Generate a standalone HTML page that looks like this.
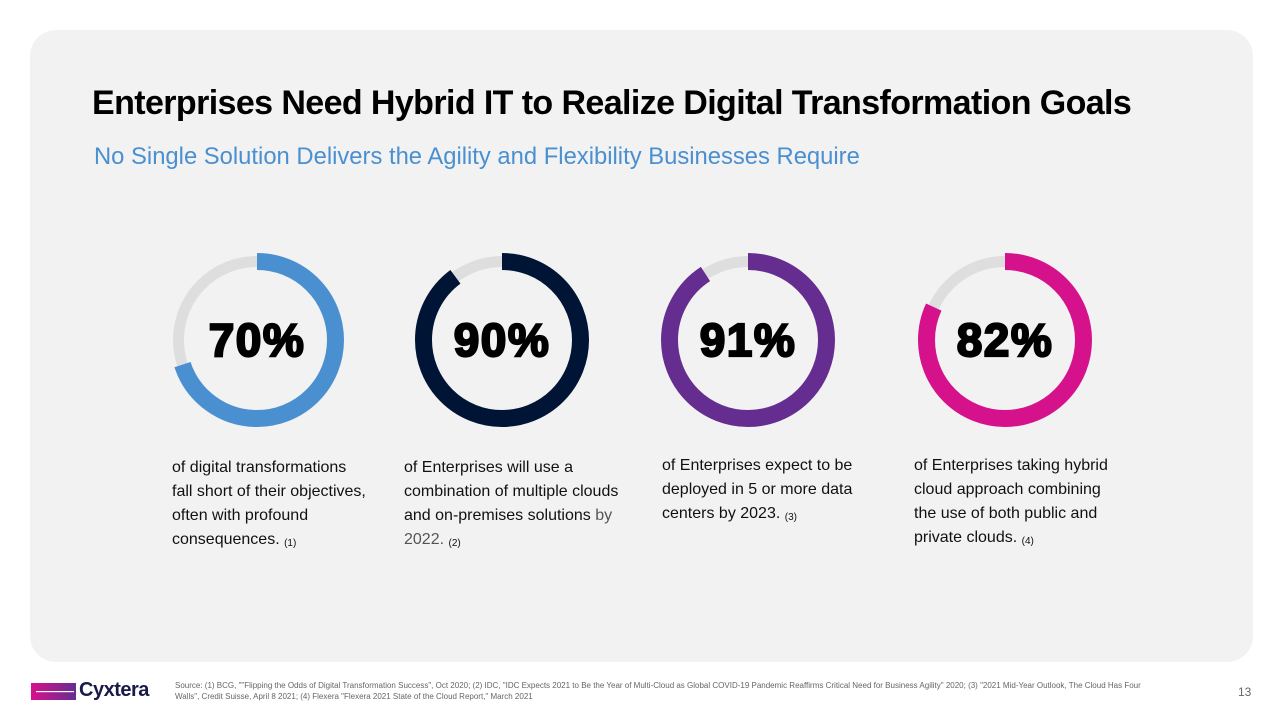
<!DOCTYPE html>
<html><head><meta charset="utf-8"><style>
body{margin:0;width:1280px;height:720px;background:#fff;position:relative;overflow:hidden;font-family:"Liberation Sans",Arial,sans-serif}
.card{position:absolute;left:30px;top:30px;width:1223px;height:632px;background:#f2f2f2;border-radius:26px}
h1{position:absolute;left:92px;top:84px;margin:0;font-size:34px;font-weight:bold;color:#000;letter-spacing:-0.6px;white-space:nowrap}
.sub{position:absolute;left:94px;top:143px;font-size:23.8px;color:#4a90d0;white-space:nowrap}
.pct{position:absolute;width:200px;text-align:center;top:313px;font-size:46px;font-weight:900;color:#000;-webkit-text-stroke:2.2px #000;letter-spacing:1.5px}
.desc{position:absolute;font-size:16px;line-height:24px;color:#111;white-space:nowrap}
.desc sub{font-size:10px;vertical-align:-2px}
.src{position:absolute;left:175px;top:680px;font-size:8px;line-height:11px;color:#666;width:1010px;white-space:nowrap}
</style></head><body>
<div class="card"></div>
<h1>Enterprises Need Hybrid IT to Realize Digital Transformation Goals</h1>
<div class="sub">No Single Solution Delivers the Agility and Flexibility Businesses Require</div>
<svg width="1280" height="720" style="position:absolute;left:0;top:0">
<g fill="none">
<g transform="translate(257,340) rotate(-90)">
<circle r="78.5" stroke="#dedede" stroke-width="11"/>
<circle r="78.5" stroke="#4a90d0" stroke-width="17" pathLength="100" stroke-dasharray="70 100"/>
</g>
<g transform="translate(502,340) rotate(-90)">
<circle r="78.5" stroke="#dedede" stroke-width="11"/>
<circle r="78.5" stroke="#001435" stroke-width="17" pathLength="100" stroke-dasharray="90 100"/>
</g>
<g transform="translate(748,340) rotate(-90)">
<circle r="78.5" stroke="#dedede" stroke-width="11"/>
<circle r="78.5" stroke="#662d91" stroke-width="17" pathLength="100" stroke-dasharray="91 100"/>
</g>
<g transform="translate(1005,340) rotate(-90)">
<circle r="78.5" stroke="#dedede" stroke-width="11"/>
<circle r="78.5" stroke="#d6118c" stroke-width="17" pathLength="100" stroke-dasharray="82 100"/>
</g>
</g>
<defs><linearGradient id="lg" x1="0" x2="1"><stop offset="0" stop-color="#d6118c"/><stop offset="1" stop-color="#662d91"/></linearGradient></defs>
<rect x="31" y="683" width="45" height="17" fill="url(#lg)"/>
<rect x="36" y="691" width="38" height="1.2" fill="#fff"/>
</svg>
<div class="pct" style="left:157px">70%</div>
<div class="pct" style="left:402px">90%</div>
<div class="pct" style="left:648px">91%</div>
<div class="pct" style="left:905px">82%</div>
<div class="desc" style="left:172px;top:456px">of digital transformations<br>fall short of their objectives,<br>often with profound<br>consequences. <sub>(1)</sub></div>
<div class="desc" style="left:404px;top:456px">of Enterprises will use a<br>combination of multiple clouds<br>and on-premises solutions <span style="color:#555">by</span><br><span style="color:#555">2022.</span> <sub>(2)</sub></div>
<div class="desc" style="left:662px;top:454px">of Enterprises expect to be<br>deployed in 5 or more data<br>centers by 2023. <sub>(3)</sub></div>
<div class="desc" style="left:914px;top:454px">of Enterprises taking hybrid<br>cloud approach combining<br>the use of both public and<br>private clouds. <sub>(4)</sub></div>
<div style="position:absolute;left:79px;top:679px;font-size:20px;font-weight:bold;color:#1a1a4a;letter-spacing:-0.5px">Cyxtera</div>
<div class="src">Source: (1) BCG, ""Flipping the Odds of Digital Transformation Success", Oct 2020; (2) IDC, "IDC Expects 2021 to Be the Year of Multi-Cloud as Global COVID-19 Pandemic Reaffirms Critical Need for Business Agility" 2020; (3) "2021 Mid-Year Outlook, The Cloud Has Four<br>Walls", Credit Suisse, April 8 2021; (4) Flexera "Flexera 2021 State of the Cloud Report," March 2021</div>
<div style="position:absolute;left:1238px;top:685px;font-size:12px;color:#666">13</div>
</body></html>
